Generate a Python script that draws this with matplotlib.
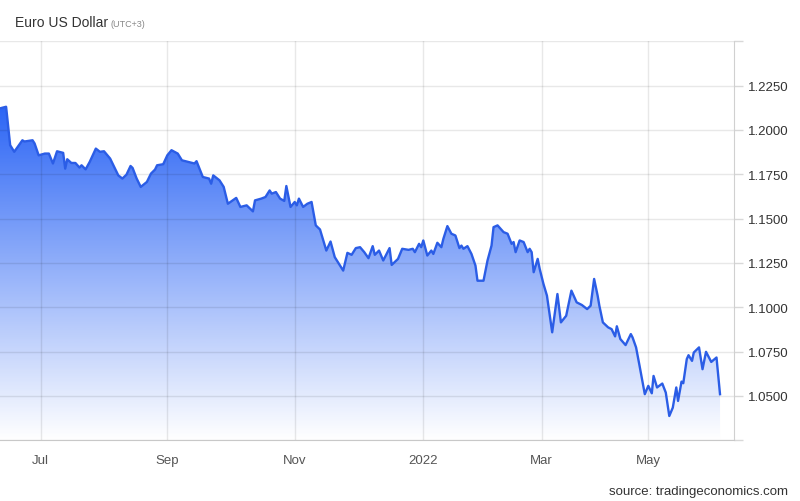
import numpy as np
import pandas as pd
import matplotlib
matplotlib.use("Agg")
import matplotlib.pyplot as plt
import matplotlib.dates as mdates
from matplotlib.colors import LinearSegmentedColormap

plt.rcParams["font.family"] = ["Liberation Sans", "DejaVu Sans"]

# EUR/USD daily close
dates = [
    "2021-06-11", "2021-06-14", "2021-06-16", "2021-06-18", "2021-06-22", "2021-06-23", "2021-06-27", "2021-06-28", "2021-06-30",
    "2021-07-03", "2021-07-05", "2021-07-07", "2021-07-09", "2021-07-12", "2021-07-13", "2021-07-14", "2021-07-16", "2021-07-18",
    "2021-07-20", "2021-07-21", "2021-07-23", "2021-07-25", "2021-07-28", "2021-07-30",
    "2021-08-01", "2021-08-04", "2021-08-06", "2021-08-08", "2021-08-10", "2021-08-12", "2021-08-14", "2021-08-15", "2021-08-17",
    "2021-08-19", "2021-08-22", "2021-08-24", "2021-08-26", "2021-08-27", "2021-08-30",
    "2021-09-01", "2021-09-03", "2021-09-06", "2021-09-08", "2021-09-11", "2021-09-14", "2021-09-15", "2021-09-18", "2021-09-21",
    "2021-09-22", "2021-09-23", "2021-09-26", "2021-09-28", "2021-09-30",
    "2021-10-04", "2021-10-06", "2021-10-09", "2021-10-12", "2021-10-13", "2021-10-16", "2021-10-18", "2021-10-20", "2021-10-21",
    "2021-10-23", "2021-10-25", "2021-10-27", "2021-10-28", "2021-10-30",
    "2021-11-01", "2021-11-02", "2021-11-03", "2021-11-05", "2021-11-07", "2021-11-09", "2021-11-11", "2021-11-13", "2021-11-16",
    "2021-11-18", "2021-11-20", "2021-11-22", "2021-11-24", "2021-11-26", "2021-11-28", "2021-11-30",
    "2021-12-02", "2021-12-04", "2021-12-06", "2021-12-08", "2021-12-09", "2021-12-11", "2021-12-13", "2021-12-16", "2021-12-17",
    "2021-12-20", "2021-12-22", "2021-12-25", "2021-12-27", "2021-12-28", "2021-12-30", "2021-12-31",
    "2022-01-01", "2022-01-03", "2022-01-05", "2022-01-06", "2022-01-08", "2022-01-10", "2022-01-11", "2022-01-13", "2022-01-15",
    "2022-01-17", "2022-01-19", "2022-01-20", "2022-01-21", "2022-01-23", "2022-01-25", "2022-01-27", "2022-01-28", "2022-01-31",
    "2022-02-02", "2022-02-04", "2022-02-05", "2022-02-07", "2022-02-10", "2022-02-12", "2022-02-14", "2022-02-15", "2022-02-16",
    "2022-02-18", "2022-02-20", "2022-02-22", "2022-02-23", "2022-02-24", "2022-02-25", "2022-02-27", "2022-02-28",
    "2022-03-02", "2022-03-04", "2022-03-07", "2022-03-10", "2022-03-12", "2022-03-15", "2022-03-18", "2022-03-21", "2022-03-24",
    "2022-03-27", "2022-03-29", "2022-03-31",
    "2022-04-02", "2022-04-03", "2022-04-05", "2022-04-08", "2022-04-10", "2022-04-12", "2022-04-13", "2022-04-15", "2022-04-18",
    "2022-04-21", "2022-04-22", "2022-04-24", "2022-04-26", "2022-04-29",
    "2022-05-01", "2022-05-03", "2022-05-04", "2022-05-06", "2022-05-09", "2022-05-11", "2022-05-13", "2022-05-15", "2022-05-17",
    "2022-05-18", "2022-05-20", "2022-05-21", "2022-05-23", "2022-05-24", "2022-05-26", "2022-05-27", "2022-05-30",
    "2022-06-01", "2022-06-03", "2022-06-06", "2022-06-09", "2022-06-11",
]
eurusd = [
    1.2122, 1.2131, 1.1914, 1.1877, 1.1942, 1.1935, 1.1942, 1.1924, 1.1857,
    1.1867, 1.1867, 1.1811, 1.1880, 1.1871, 1.1782, 1.1835, 1.1814, 1.1814,
    1.1788, 1.1801, 1.1778, 1.1820, 1.1895, 1.1877,
    1.1880, 1.1839, 1.1792, 1.1744, 1.1726, 1.1748, 1.1797, 1.1786, 1.1726,
    1.1679, 1.1707, 1.1754, 1.1777, 1.1801, 1.1807,
    1.1857, 1.1886, 1.1867, 1.1829, 1.1820, 1.1811, 1.1824, 1.1735, 1.1726,
    1.1697, 1.1744, 1.1716, 1.1679, 1.1584,
    1.1617, 1.1566, 1.1575, 1.1541, 1.1603, 1.1613, 1.1622, 1.1659, 1.1641,
    1.1650, 1.1613, 1.1600, 1.1684, 1.1566,
    1.1594, 1.1575, 1.1613, 1.1566, 1.1584, 1.1594, 1.1462, 1.1439, 1.1320,
    1.1371, 1.1283, 1.1245, 1.1207, 1.1307, 1.1296, 1.1334,
    1.1339, 1.1311, 1.1277, 1.1345, 1.1296, 1.1320, 1.1264, 1.1334, 1.1239,
    1.1273, 1.1330, 1.1324, 1.1330, 1.1311, 1.1358, 1.1339,
    1.1377, 1.1292, 1.1320, 1.1301, 1.1364, 1.1339, 1.1386, 1.1458, 1.1415,
    1.1405, 1.1334, 1.1348, 1.1330, 1.1345, 1.1301, 1.1235, 1.1150, 1.1150,
    1.1264, 1.1348, 1.1452, 1.1462, 1.1424, 1.1415, 1.1358, 1.1368, 1.1311,
    1.1377, 1.1368, 1.1311, 1.1330, 1.1311, 1.1198, 1.1273, 1.1217,
    1.1132, 1.1066, 1.0859, 1.1075, 1.0915, 1.0952, 1.1094, 1.1028, 1.1013,
    1.0990, 1.1009, 1.1160,
    1.1066, 1.1009, 1.0915, 1.0887, 1.0877, 1.0836, 1.0893, 1.0821, 1.0787,
    1.0849, 1.0830, 1.0774, 1.0670, 1.0510,
    1.0557, 1.0515, 1.0613, 1.0548, 1.0570, 1.0519, 1.0387, 1.0434, 1.0548,
    1.0472, 1.0581, 1.0572, 1.0708, 1.0730, 1.0698, 1.0745, 1.0774,
    1.0651, 1.0749, 1.0692, 1.0717, 1.0510,
]

tick_dates = ["2021-07-01", "2021-09-01", "2021-11-01", "2022-01-01", "2022-03-01", "2022-05-01"]
tick_labels = ["Jul", "Sep", "Nov", "2022", "Mar", "May"]
y_ticks = [1.025, 1.05, 1.075, 1.10, 1.125, 1.15, 1.175, 1.20, 1.225, 1.25]

# the source chart does not space months evenly, so warp the date axis
# with anchor dates -> axis fraction
anchor_dates = ["2021-06-11", "2021-07-01", "2021-09-01", "2021-11-01",
                "2022-01-01", "2022-03-01", "2022-05-01", "2022-06-19"]
anchor_frac = np.array([0, 40.7, 167.3, 294.7, 423.3, 541.7, 648.3, 734]) / 734

anchor_num = mdates.date2num(pd.to_datetime(anchor_dates))


def fwd(d):
    return np.interp(d, anchor_num, anchor_frac)


def inv(p):
    return np.interp(p, anchor_frac, anchor_num)


x = mdates.date2num(pd.to_datetime(dates))
y = np.array(eurusd)

fig = plt.figure(figsize=(8, 5.02), dpi=100)
ax = fig.add_axes([0.0, 0.1209, 0.9175, 0.7948])
ax.set_xscale("function", functions=(fwd, inv))

# gradient fill under the line (white at bottom -> blue at the highest point)
ymin, ymax = 1.025, 1.25
top_frac = (y.max() - ymin) / (ymax - ymin)
ramp = np.clip(np.linspace(0, 1, 400) / top_frac, 0, 1).reshape(-1, 1)
cmap = LinearSegmentedColormap.from_list("fx", ["#ffffff", "#2d66f5"])
im = ax.imshow(ramp, extent=[0, 1, 0, 1], transform=ax.transAxes, origin="lower",
               aspect="auto", cmap=cmap, vmin=0, vmax=1, zorder=1)
poly = ax.fill_between(x, y, ymin, facecolor="none", edgecolor="none")
im.set_clip_path(poly.get_paths()[0], poly.get_transform())

ax.plot(x, y, color="#2b5de6", linewidth=1.7, zorder=3, solid_joinstyle="round")

ax.set_xlim(anchor_num[0], anchor_num[-1])
ax.set_ylim(ymin, ymax)

ax.set_xticks(mdates.date2num(pd.to_datetime(tick_dates)))
ax.set_xticklabels(tick_labels)
ax.set_yticks(y_ticks)
ax.set_yticklabels(["" if (t < 1.04 or t > 1.24) else f"{t:.4f}" for t in y_ticks])
ax.yaxis.tick_right()

ax.set_axisbelow("line")
ax.grid(True, color="#000000", alpha=0.09, linewidth=1)

for s in ["left", "top"]:
    ax.spines[s].set_visible(False)
ax.spines["right"].set_color("#d0d0d0")
ax.spines["bottom"].set_color("#c8c8c8")

ax.tick_params(axis="x", length=0, pad=10, labelsize=9.5, labelcolor="#555555")
ax.tick_params(axis="y", length=6.5, width=1, color="#d8d8d8", pad=3.5,
               labelsize=9.5, labelcolor="#333333")

fig.text(0.019, 0.947, "Euro US Dollar", fontsize=10, color="#333333", va="baseline")
fig.text(0.1385, 0.947, "(UTC+3)", fontsize=6.5, color="#888888", va="baseline")
fig.text(0.985, 0.013, "source: tradingeconomics.com", fontsize=9.5, color="#333333",
         ha="right", va="baseline")

fig.savefig("out.png", dpi=100)
